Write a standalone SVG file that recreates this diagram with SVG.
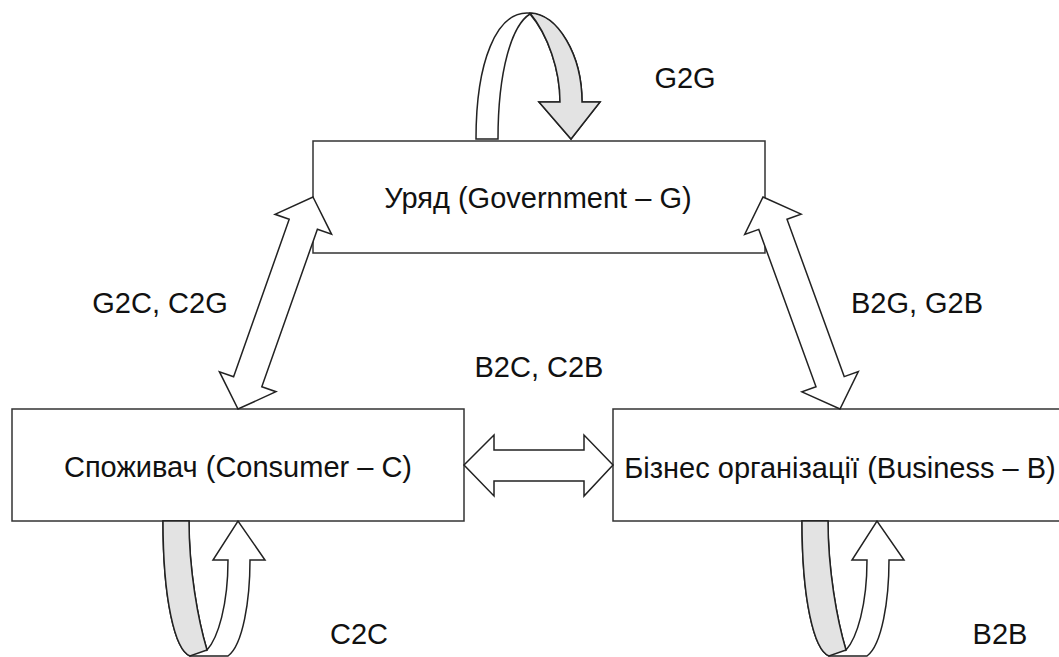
<svg xmlns="http://www.w3.org/2000/svg" width="1059" height="657" viewBox="0 0 1059 657">
<style>
.box{fill:#fff;stroke:#333;stroke-width:1.5}
.arr{fill:#fff;stroke:#222;stroke-width:1.5;stroke-linejoin:miter}
.gray{fill:#e3e3e3;stroke:#222;stroke-width:1.5}
text{font-family:"Liberation Sans",Arial,sans-serif;font-size:29px;fill:#111;text-anchor:middle}
</style>
<rect width="1059" height="657" fill="#fff"/>
<g id="gov">
<rect class="box" x="313" y="141" width="452" height="112"/>
<text x="538" y="208">Уряд (Government – G)</text>
</g>
<g id="consumer">
<rect class="box" x="12" y="409" width="452" height="112"/>
<text x="238" y="477">Споживач (Consumer – C)</text>
</g>
<g id="business">
<rect class="box" x="613" y="409" width="455" height="112"/>
<text x="840" y="478">Бізнес організації (Business – B)</text>
</g>
<g id="connectors">
<path class="arr" d="M476,139 C476,60 497,13 527,13 C558,13 582,55 582,102 L600,102 L571,139 L539,102 L560,102 C560,70 548,35 530,14 C512,25 498,70 498,139 Z"/>
<path class="gray" d="M530,13 C558,14 582,55 582,102 L600,102 L571,139 L539,102 L560,102 C560,70 548,35 530,13 Z"/>
<g id="c2c">
<path class="arr" d="M163,521 C163,600 175,650 190,656 L228,656 C243,645 250,600 250,560 L265,560 L238,521 L213,560 L228,560 C228,605 218,638 207,650 C198,620 189,570 189,521 Z"/>
<path class="gray" d="M163,521 C163,600 175,650 190,656 L207,650 C198,620 189,570 189,521 Z"/>
</g>
<use href="#c2c" transform="translate(639,0)"/>
<polygon class="arr" points="313,197 331.6,234.3 317.4,229.3 261.8,386.7 276,391.7 238,409 219.4,371.7 233.6,376.7 289.2,219.3 275,214.3"/>
<polygon class="arr" points="763,197 801.1,214.1 787,219.2 844.2,376.6 858.3,371.5 840,409 801.9,391.9 816,386.8 758.8,229.4 744.7,234.5"/>
<polygon class="arr" points="464,465 494,435 494,450 584,450 584,435 613,465 584,496 584,481 494,481 494,496"/>
</g>
<g id="labels">
<text x="685" y="88">G2G</text>
<text x="160" y="313">G2C, C2G</text>
<text x="917" y="313">B2G, G2B</text>
<text x="539" y="377">B2C, C2B</text>
<text x="359" y="644">C2C</text>
<text x="1000" y="644">B2B</text>
</g>
</svg>
